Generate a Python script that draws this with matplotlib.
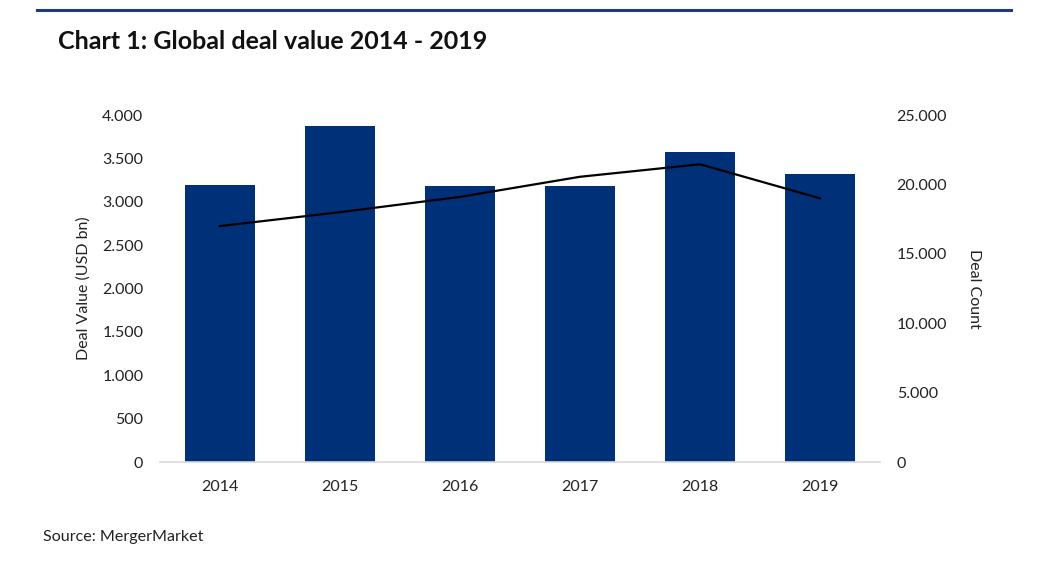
import matplotlib.pyplot as plt
import numpy as np
from matplotlib.lines import Line2D

plt.rcParams['font.family'] = ['Lato', 'DejaVu Sans']

years = ['2014', '2015', '2016', '2017', '2018', '2019']
deal_value = [3195, 3875, 3185, 3180, 3575, 3320]
deal_count = [17000, 18000, 19100, 20550, 21450, 19000]

fig = plt.figure(figsize=(10.39, 5.73), dpi=100)
ax = fig.add_axes([0.154, 0.1937, 0.693, 0.6056])
x = np.arange(len(years))

ax.bar(x, deal_value, width=0.58, color='#003078', zorder=2)
ax.set_xlim(-0.5, len(years) - 0.5)
ax.set_ylim(0, 4000)
ax.set_yticks(np.arange(0, 4001, 500))
ax.set_yticklabels([f'{v:,}'.replace(',', '.') for v in range(0, 4001, 500)])
ax.set_xticks(x)
ax.set_xticklabels(years)
ax.tick_params(length=0, labelsize=11.5, colors='#222222')
ax.tick_params(axis='x', pad=13)
ax.tick_params(axis='y', pad=12)
for s in ['top', 'left', 'right']:
    ax.spines[s].set_visible(False)
ax.spines['bottom'].set_color('#d9d9d9')
ax.spines['bottom'].set_linewidth(1.2)
ax.set_ylabel('Deal Value (USD bn)', fontsize=11.5, color='#222222', labelpad=8)

ax2 = ax.twinx()
ax2.plot(x, deal_count, color='black', linewidth=1.6, zorder=3)
ax2.set_ylim(0, 25000)
ax2.set_yticks(np.arange(0, 25001, 5000))
ax2.set_yticklabels([f'{v:,}'.replace(',', '.') for v in range(0, 25001, 5000)])
ax2.tick_params(length=0, labelsize=11.5, colors='#222222', pad=12)
for s in ['top', 'left', 'right', 'bottom']:
    ax2.spines[s].set_visible(False)
ax2.set_ylabel('Deal Count', fontsize=11.5, color='#222222', rotation=270, labelpad=24)

# top rule and title
fig.add_artist(Line2D([0.036, 0.973], [0.982, 0.982], color='#1f3c78', linewidth=2.2))
fig.text(0.056, 0.927, 'Chart 1: Global deal value 2014 - 2019', fontsize=18,
         fontweight='bold', color='#111111', va='center')
fig.text(0.041, 0.062, 'Source: MergerMarket', fontsize=11.6, color='#222222', va='center')

fig.savefig('out.png', dpi=100, facecolor='white')
